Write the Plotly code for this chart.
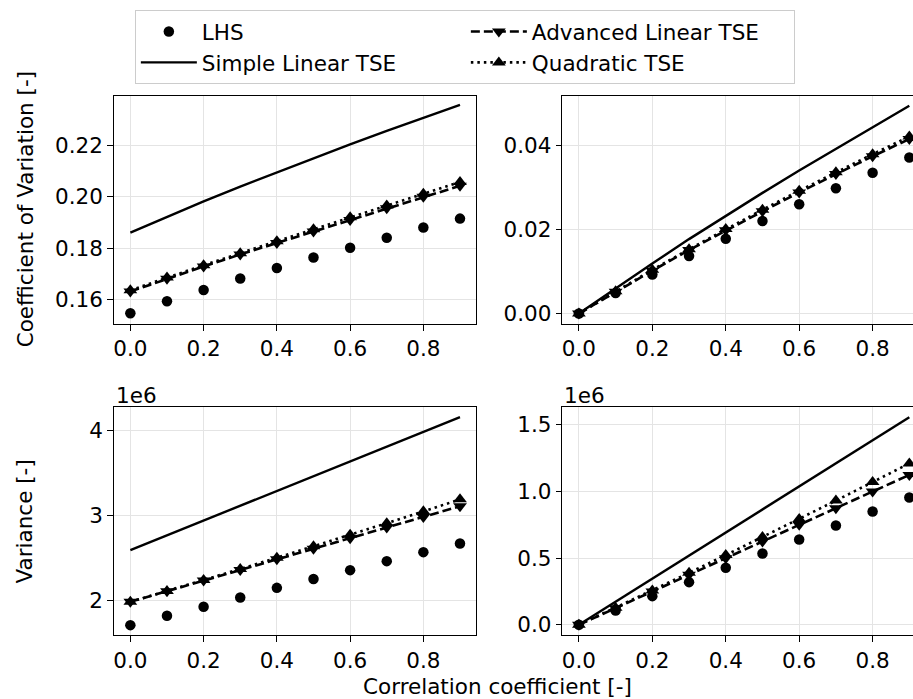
import plotly.graph_objects as go
from plotly.subplots import make_subplots

# ---------------- data ----------------
rho = [0.0, 0.1, 0.2, 0.3, 0.4, 0.5, 0.6, 0.7, 0.8, 0.9]

# Coefficient of variation, left panel
lhs_cov_a = [0.1545, 0.1592, 0.1636, 0.1681, 0.1722, 0.1763, 0.1801, 0.1840, 0.1880, 0.1915]
simple_cov_a = [0.1860, 0.1922, 0.1982, 0.2040, 0.2096, 0.2152, 0.2205, 0.2258, 0.2309, 0.2359]
adv_cov_a = [0.1630, 0.1680, 0.1728, 0.1775, 0.1820, 0.1865, 0.1910, 0.1955, 0.2000, 0.2043]
quad_cov_a = [0.1635, 0.1685, 0.1733, 0.1780, 0.1827, 0.1873, 0.1920, 0.1966, 0.2012, 0.2058]

# Coefficient of variation, right panel
lhs_cov_b = [0.0, 0.0049, 0.0093, 0.0137, 0.0178, 0.0220, 0.0260, 0.0298, 0.0335, 0.0371]
simple_cov_b = [0.0, 0.0060, 0.0119, 0.0177, 0.0233, 0.0287, 0.0340, 0.0392, 0.0443, 0.0494]
adv_cov_b = [0.0, 0.0052, 0.0102, 0.0151, 0.0198, 0.0243, 0.0288, 0.0332, 0.0374, 0.0415]
quad_cov_b = [0.0, 0.0053, 0.0104, 0.0153, 0.0201, 0.0247, 0.0292, 0.0336, 0.0379, 0.0421]

# Variance, left panel
lhs_var_a = [1.706e6, 1.816e6, 1.922e6, 2.032e6, 2.145e6, 2.250e6, 2.353e6, 2.459e6, 2.565e6, 2.667e6]
simple_var_a = [2.589e6, 2.763e6, 2.937e6, 3.111e6, 3.285e6, 3.459e6, 3.633e6, 3.807e6, 3.981e6, 4.155e6]
adv_var_a = [1.980e6, 2.105e6, 2.230e6, 2.355e6, 2.480e6, 2.605e6, 2.730e6, 2.855e6, 2.980e6, 3.105e6]
quad_var_a = [1.980e6, 2.107e6, 2.236e6, 2.367e6, 2.499e6, 2.633e6, 2.769e6, 2.906e6, 3.045e6, 3.186e6]

# Variance, right panel
lhs_var_b = [0.0, 0.107e6, 0.215e6, 0.320e6, 0.428e6, 0.535e6, 0.640e6, 0.745e6, 0.850e6, 0.955e6]
simple_var_b = [0.0, 0.173e6, 0.346e6, 0.519e6, 0.692e6, 0.866e6, 1.039e6, 1.212e6, 1.385e6, 1.558e6]
adv_var_b = [0.0, 0.125e6, 0.250e6, 0.375e6, 0.500e6, 0.625e6, 0.750e6, 0.875e6, 1.000e6, 1.125e6]
quad_var_b = [0.0, 0.128e6, 0.258e6, 0.390e6, 0.523e6, 0.658e6, 0.794e6, 0.932e6, 1.071e6, 1.211e6]

x_ticks = [0.0, 0.2, 0.4, 0.6, 0.8]
x_ticktext = ["0.0", "0.2", "0.4", "0.6", "0.8"]
y_ticks_a = [0.16, 0.18, 0.20, 0.22]
y_ticktext_a = ["0.16", "0.18", "0.20", "0.22"]
y_ticks_b = [0.00, 0.02, 0.04]
y_ticktext_b = ["0.00", "0.02", "0.04"]
y_ticks_c = [2e6, 3e6, 4e6]
y_ticktext_c = ["2", "3", "4"]
y_ticks_d = [0.0, 0.5e6, 1.0e6, 1.5e6]
y_ticktext_d = ["0.0", "0.5", "1.0", "1.5"]

names = ["LHS", "Simple Linear TSE", "Advanced Linear TSE", "Quadratic TSE"]

# ---------------- figure ----------------
W, H = 913, 699
FONT = "DejaVu Sans"
FS = 21.5

fig = make_subplots(rows=2, cols=2)

panels = [
    (1, 1, lhs_cov_a, simple_cov_a, adv_cov_a, quad_cov_a),
    (1, 2, lhs_cov_b, simple_cov_b, adv_cov_b, quad_cov_b),
    (2, 1, lhs_var_a, simple_var_a, adv_var_a, quad_var_a),
    (2, 2, lhs_var_b, simple_var_b, adv_var_b, quad_var_b),
]

COL1_W = 259
COL2_W = 257

for i, (r, c, lhs, simple, adv, quad) in enumerate(panels):
    show = i == 0
    fig.add_trace(go.Scatter(x=rho, y=lhs, mode="markers", name=names[0],
                             marker=dict(symbol="circle", size=10.5, color="black"),
                             showlegend=show, legendrank=1, legendwidth=COL1_W), row=r, col=c)
    fig.add_trace(go.Scatter(x=rho, y=simple, mode="lines", name=names[1],
                             line=dict(color="black", width=2.4),
                             showlegend=show, legendrank=3, legendwidth=COL1_W), row=r, col=c)
    fig.add_trace(go.Scatter(x=rho, y=adv, mode="lines+markers", name=names[2],
                             line=dict(color="black", width=2.6, dash="9px,4px"),
                             marker=dict(symbol="triangle-down", size=12, color="black"),
                             showlegend=show, legendrank=2, legendwidth=COL2_W), row=r, col=c)
    fig.add_trace(go.Scatter(x=rho, y=quad, mode="lines+markers", name=names[3],
                             line=dict(color="black", width=2.6, dash="2.5px,4px"),
                             marker=dict(symbol="triangle-up", size=12, color="black"),
                             showlegend=show, legendrank=4, legendwidth=COL2_W), row=r, col=c)

xl = [113 / W, 476 / W]
xr = [562 / W, 1.0]
yt = [1 - 325 / H, 1 - 96 / H]
yb = [1 - 637 / H, 1 - 408 / H]

axis_common = dict(showline=True, linecolor="black", linewidth=1.2,
                   ticks="outside", ticklen=5.5, tickwidth=1.2, tickcolor="black",
                   showgrid=True, gridcolor="#e4e4e4", gridwidth=1.2,
                   zeroline=False, tickfont=dict(family=FONT, size=FS, color="black"))

fig.update_layout(
    xaxis=dict(domain=xl, range=[-0.045, 0.945], tickvals=x_ticks, ticktext=x_ticktext, mirror=True, **axis_common),
    xaxis2=dict(domain=xr, range=[-0.045, 0.910], tickvals=x_ticks, ticktext=x_ticktext, mirror=True, **axis_common),
    xaxis3=dict(domain=xl, range=[-0.045, 0.945], tickvals=x_ticks, ticktext=x_ticktext, mirror=True, **axis_common),
    xaxis4=dict(domain=xr, range=[-0.045, 0.910], tickvals=x_ticks, ticktext=x_ticktext, mirror=True, **axis_common),
    yaxis=dict(domain=yt, range=[0.1503, 0.2395], tickvals=y_ticks_a, ticktext=y_ticktext_a, mirror=True, **axis_common),
    yaxis2=dict(domain=yt, range=[-0.0025, 0.0518], tickvals=y_ticks_b, ticktext=y_ticktext_b, mirror=False, **axis_common),
    yaxis3=dict(domain=yb, range=[1.588e6, 4.275e6], tickvals=y_ticks_c, ticktext=y_ticktext_c, mirror=True, **axis_common),
    yaxis4=dict(domain=yb, range=[-0.078e6, 1.636e6], tickvals=y_ticks_d, ticktext=y_ticktext_d, mirror=False, **axis_common),
)

fig.update_layout(
    width=W, height=H,
    margin=dict(l=0, r=0, t=0, b=0),
    paper_bgcolor="white", plot_bgcolor="white",
    font=dict(family=FONT, size=FS, color="black"),
    legend=dict(orientation="h", x=134 / W, xanchor="left", y=1 - 10 / H, yanchor="top",
                bordercolor="#cccccc", borderwidth=1, bgcolor="white",
                font=dict(family=FONT, size=FS, color="black"),
                traceorder="normal", itemwidth=56),
    annotations=[
        dict(text="Coefficient of Variation [-]", xref="paper", yref="paper",
             x=24 / W, y=1 - 210 / H, xanchor="center", yanchor="middle",
             textangle=-90, showarrow=False, font=dict(family=FONT, size=FS, color="black")),
        dict(text="Variance [-]", xref="paper", yref="paper",
             x=24 / W, y=1 - 523 / H, xanchor="center", yanchor="middle",
             textangle=-90, showarrow=False, font=dict(family=FONT, size=FS, color="black")),
        dict(text="Correlation coefficient [-]", xref="paper", yref="paper",
             x=497 / W, y=1 - 688 / H, xanchor="center", yanchor="middle",
             showarrow=False, font=dict(family=FONT, size=FS, color="black")),
        dict(text="1e6", xref="paper", yref="paper",
             x=113 / W, y=1 - 397 / H, xanchor="left", yanchor="middle",
             showarrow=False, font=dict(family=FONT, size=FS, color="black")),
        dict(text="1e6", xref="paper", yref="paper",
             x=562 / W, y=1 - 397 / H, xanchor="left", yanchor="middle",
             showarrow=False, font=dict(family=FONT, size=FS, color="black")),
    ],
)

fig.write_html("out.html", config={"displayModeBar": False},
               post_script="document.body.style.margin='0px';")
